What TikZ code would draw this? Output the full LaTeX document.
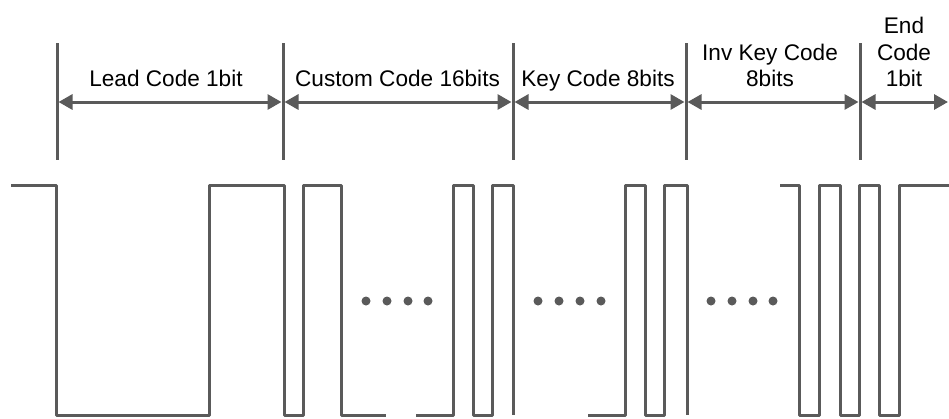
\documentclass[tikz,border=0pt]{standalone}
\usepackage{fontspec}
\setmainfont{Liberation Sans}
\usetikzlibrary{arrows.meta}
\definecolor{sig}{HTML}{5A5A5A}
\begin{document}
\begin{tikzpicture}[x=1pt,y=-1pt,
  marker/.style={draw=sig,line width=3pt},
  span/.style={draw=sig,line width=3pt,{Triangle[length=14pt,width=15pt]}-{Triangle[length=14pt,width=15pt]},shorten <=1.5pt,shorten >=1.5pt},
  wave/.style={draw=sig,line width=3pt,line join=round},
  lbl/.style={anchor=base,inner sep=0pt,font=\fontsize{22.6pt}{27pt}\selectfont},
  dot/.style={fill=sig,circle,inner sep=0pt,minimum size=9pt}]
\useasboundingbox (0,0) rectangle (949,418);
% section markers
\foreach \n/\x in {a/57,b/283,c/513,d/686,e/860}{
  \coordinate (\n t) at (\x,43);
  \coordinate (\n b) at (\x,160);
  \coordinate (\n m) at (\x,102);
}
\coordinate (fm) at (949,102);
\foreach \n in {a,b,c,d,e}{ \draw[marker] (\n t) -- (\n b); }
\draw[span] (am) -- (bm);
\draw[span] (bm) -- (cm);
\draw[span] (cm) -- (dm);
\draw[span] (dm) -- (em);
\draw[span,shorten >=1pt] (em) -- (fm);
% labels
\node[lbl] (lead) at (166,86) {Lead Code 1bit};
\node[lbl] (custom) at (397.5,86) {Custom Code 16bits};
\node[lbl] (key) at (598,86) {Key Code 8bits};
\node[lbl] (inv1) at (770,60) {Inv Key Code};
\node[lbl] (inv2) at (770,86) {8bits};
\node[lbl] (end1) at (904,33) {End};
\node[lbl] (end2) at (904,60) {Code};
\node[lbl] (end3) at (904,86) {1bit};
% waveform
\draw[wave] (11,185) -- (56,185) -- (56,415.5) -- (209,415.5) -- (209,185) -- (284,185) -- (284,415.5) -- (303,415.5) -- (303,185) -- (341,185) -- (341,415.5) -- (386,415.5);
\draw[wave] (416,415.5) -- (453,415.5) -- (453,185) -- (473,185) -- (473,415.5) -- (492,415.5) -- (492,185) -- (513,185) -- (513,414.5);
\draw[wave] (588,415.5) -- (625,415.5) -- (625,185) -- (645,185) -- (645,415.5) -- (664,415.5) -- (664,185) -- (687,185) -- (687,414.5);
\draw[wave] (780,185) -- (799,185) -- (799,415.5) -- (819,415.5) -- (819,185) -- (840,185) -- (840,415.5) -- (859,415.5) -- (859,185) -- (879,185) -- (879,415.5) -- (899,415.5) -- (899,185) -- (949,185);
% ellipsis dots
\foreach \i/\x in {1/366,2/387,3/408,4/428,5/538,6/559,7/580,8/601,9/711,10/732,11/753,12/773}{
  \node[dot] (d\i) at (\x,301) {};
}
\end{tikzpicture}
\end{document}
